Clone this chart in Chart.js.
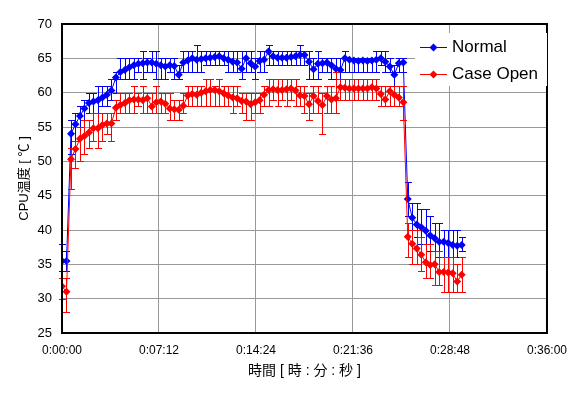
<!DOCTYPE html>
<html>
<head>
<meta charset="utf-8">
<script src="https://cdn.jsdelivr.net/npm/chart.js@4"></script>
<style>
  body { margin: 0; background: #fff; }
  #wrap { width: 577px; height: 397px; }
</style>
</head>
<body>
<div id="wrap"><canvas id="chart" width="577" height="397"></canvas></div>
<script>
// elapsed time in seconds (one reading every 20 s)
const seconds = [0,20,40,60,80,100,120,140,160,180,
  200,220,240,260,280,300,320,340,360,380,
  400,420,440,460,480,500,520,540,560,580,
  600,620,640,660,680,700,720,740,760,780,
  800,820,840,860,880,900,920,940,960,980,
  1000,1020,1040,1060,1080,1100,1120,1140,1160,1180,
  1200,1220,1240,1260,1280,1300,1320,1340,1360,1380,
  1400,1420,1440,1460,1480,1500,1520,1540,1560,1580,
  1600,1620,1640,1660,1680,1700,1720,1740,1760,1780];

// Normal: mean temp and min/max (error bar ends)
const normalTemp = [35.5,35.5,54.0,55.4,56.6,57.7,58.5,58.7,58.9,59.3,
  59.7,60.3,62.2,63.0,63.3,63.7,64.0,64.2,64.3,64.4,
  64.4,64.2,64.0,63.8,64.0,63.9,62.6,64.4,64.7,65.0,
  64.8,64.9,65.0,65.1,65.2,65.3,65.0,64.8,64.5,64.4,
  63.5,65.0,64.3,63.8,64.6,64.8,66.0,65.3,65.1,65.1,
  65.1,65.2,65.3,65.5,65.5,64.5,63.4,64.2,64.3,64.4,
  64.0,63.5,63.3,65.0,64.8,64.7,64.6,64.7,64.6,64.7,
  64.8,65.0,64.5,63.8,62.6,64.3,64.4,44.5,41.8,40.8,
  40.4,39.9,39.2,38.8,38.3,38.3,38.1,37.8,37.7,37.8];
const normalLow = [34,34,51,53,55,56,57,57,57,58,
  58,59,60,62,62,62,62,63,62,63,
  63,62,62,62,63,62,62,63,63,63,
  63,63,64,64,64,64,64,63,63,63,
  62,63,63,62,63,63,64,64,64,64,
  64,64,64,64,64,62,62,62,63,63,
  62,62,61,63,63,63,63,63,63,63,
  63,64,63,63,61,63,63,42,40,39,
  38,38,37,37,36,36,36,36,36,37];
const normalHigh = [38,37,56,57,58,59,60,60,61,61,
  61,62,63,65,65,65,65,65,66,65,
  66,66,65,65,65,65,64,66,66,66,
  67,66,66,66,66,66,66,66,66,66,
  66,66,66,65,66,66,67,66,66,66,
  66,66,66,67,66,66,65,66,65,65,
  65,65,65,66,65,65,65,65,65,65,
  66,66,66,65,64,65,65,47,44,44,
  43,43,42,41,41,40,40,40,40,39];

// Case Open
const openTemp = [31.8,31.0,50.3,51.8,53.3,53.7,54.2,54.8,54.8,55.3,
  55.5,55.5,57.8,58.2,58.5,58.9,59.0,59.0,58.9,59.2,
  58.0,58.6,58.7,58.4,57.7,57.6,57.5,58.1,59.6,59.8,
  59.7,60.0,60.2,60.4,60.4,60.2,59.9,59.6,59.3,59.2,
  58.8,58.7,58.3,58.6,58.9,59.7,60.4,60.5,60.4,60.4,
  60.5,60.6,60.3,59.6,59.5,58.3,59.5,58.8,58.2,59.5,
  59.0,59.2,60.8,60.7,60.6,60.6,60.6,60.6,60.6,60.8,
  60.6,59.8,59.0,60.2,59.7,59.3,58.6,39.0,38.0,37.3,
  36.4,35.3,34.9,35.0,33.9,33.9,33.8,33.7,32.5,33.5];
const openLow = [30,28,46,49,50,51,52,53,52,53,
  54,53,56,57,57,57,57,58,57,57,
  57,57,57,57,56,56,56,57,58,58,
  58,58,58,58,58,58,58,58,57,58,
  57,56,56,57,57,58,58,59,58,59,
  58,59,58,58,57,56,57,57,54,57,
  57,57,59,59,59,59,59,59,59,59,
  59,58,58,58,58,58,56,36,35,35,
  34,33,33,32,32,31,31,31,31,31];
const openHigh = [33,33,52,53,55,56,56,57,57,57,
  57,57,59,60,60,60,61,60,61,60,
  60,61,60,60,60,59,59,60,61,61,
  61,61,62,62,61,62,61,61,61,61,
  60,60,60,60,60,61,62,62,62,62,
  62,62,62,61,61,60,61,61,60,61,
  61,63,62,62,62,62,62,62,62,62,
  62,61,61,61,61,61,61,41,40,40,
  39,38,38,37,37,36,36,36,35,36];

const seriesNames = ["Normal", "Case Open"];

// seconds -> h:mm:ss
const fmtTime = (s) => {
  const h = Math.floor(s / 3600);
  const m = Math.floor((s % 3600) / 60);
  const sec = Math.round(s % 60);
  return h + ":" + String(m).padStart(2, "0") + ":" + String(sec).padStart(2, "0");
};

const toPoints = (vals) => vals.map((v, i) => ({ x: seconds[i], y: v }));

// min/max bars drawn under each series
const errorBars = {
  id: "errorBars",
  beforeDatasetDraw(chart, args) {
    const ds = chart.data.datasets[args.index];
    if (!ds.low) return;
    const xs = chart.scales.x, ys = chart.scales.y, ctx = chart.ctx;
    ctx.save();
    ctx.strokeStyle = ds.borderColor;
    ctx.lineWidth = 1;
    ctx.beginPath();
    ds.data.forEach((p, i) => {
      const px = Math.round(xs.getPixelForValue(p.x)) + 0.5;
      const lo = Math.round(ys.getPixelForValue(ds.low[i])) + 0.5;
      const hi = Math.round(ys.getPixelForValue(ds.high[i])) + 0.5;
      ctx.moveTo(px, lo); ctx.lineTo(px, hi);
      ctx.moveTo(px - 3.5, lo); ctx.lineTo(px + 3.5, lo);
      ctx.moveTo(px - 3.5, hi); ctx.lineTo(px + 3.5, hi);
    });
    ctx.stroke();
    ctx.restore();
  }
};

// black frame + legend box inside the plot
const frameAndLegend = {
  id: "frameAndLegend",
  afterDraw(chart) {
    const { ctx, chartArea: a } = chart;
    ctx.save();
    ctx.strokeStyle = "#000";
    ctx.lineWidth = 2;
    ctx.strokeRect(a.left, a.top, a.right - a.left, a.bottom - a.top);

    ctx.fillStyle = "#fff";
    ctx.fillRect(415, 33, 132, 53);
    ctx.font = "17px 'Liberation Sans', sans-serif";
    ctx.textBaseline = "middle";
    chart.data.datasets.forEach((ds, i) => {
      const y = 47 + i * 27;
      ctx.strokeStyle = ds.borderColor;
      ctx.lineWidth = 1;
      ctx.beginPath();
      ctx.moveTo(420, y + 0.5); ctx.lineTo(447, y + 0.5);
      ctx.stroke();
      ctx.fillStyle = ds.borderColor;
      ctx.beginPath();
      ctx.moveTo(433.5, y - 3.5); ctx.lineTo(437.5, y + 0.5);
      ctx.lineTo(433.5, y + 4.5); ctx.lineTo(429.5, y + 0.5);
      ctx.closePath();
      ctx.fill();
      ctx.fillStyle = "#000";
      ctx.fillText(ds.label, 452, y);
    });
    ctx.restore();
  }
};

Chart.defaults.font.family = "'Liberation Sans', 'Noto Sans CJK JP', sans-serif";
Chart.defaults.color = "#000";

new Chart(document.getElementById("chart"), {
  type: "scatter",
  plugins: [errorBars, frameAndLegend],
  data: {
    datasets: [
      {
        label: seriesNames[0],
        data: toPoints(normalTemp),
        low: normalLow,
        high: normalHigh,
        borderColor: "#0000ff",
        backgroundColor: "#0000ff",
        showLine: true,
        borderWidth: 1,
        pointStyle: "rectRot",
        pointRadius: 4,
        pointBorderWidth: 0,
        order: 1
      },
      {
        label: seriesNames[1],
        data: toPoints(openTemp),
        low: openLow,
        high: openHigh,
        borderColor: "#ff0000",
        backgroundColor: "#ff0000",
        showLine: true,
        borderWidth: 1,
        pointStyle: "rectRot",
        pointRadius: 4,
        pointBorderWidth: 0,
        order: 0
      }
    ]
  },
  options: {
    responsive: false,
    animation: false,
    devicePixelRatio: 1,
    layout: { padding: { left: 0, right: 27, top: 24, bottom: 0 } },
    plugins: { legend: { display: false }, tooltip: { enabled: false } },
    scales: {
      x: {
        type: "linear",
        min: 0,
        max: 2160,
        afterFit: (s) => { s.height = 64; },
        ticks: {
          stepSize: 432,
          autoSkip: false,
          maxRotation: 0,
          padding: 10,
          font: { size: 12 },
          callback: (v) => fmtTime(v)
        },
        grid: { color: "#999", drawTicks: false },
        border: { display: false },
        title: {
          display: true,
          text: "時間 [ 時 : 分 : 秒 ]",
          font: { size: 14 },
          padding: { top: 0, bottom: 17 }
        }
      },
      y: {
        min: 25,
        max: 70,
        afterFit: (s) => { s.width = 62; },
        ticks: { stepSize: 5, padding: 10, font: { size: 13 } },
        grid: { color: "#999", drawTicks: false },
        border: { display: false },
        title: {
          display: true,
          text: "CPU温度 [ ℃ ]",
          font: { size: 13 },
          padding: { top: 17, bottom: 0 }
        }
      }
    }
  }
});
</script>
</body>
</html>
